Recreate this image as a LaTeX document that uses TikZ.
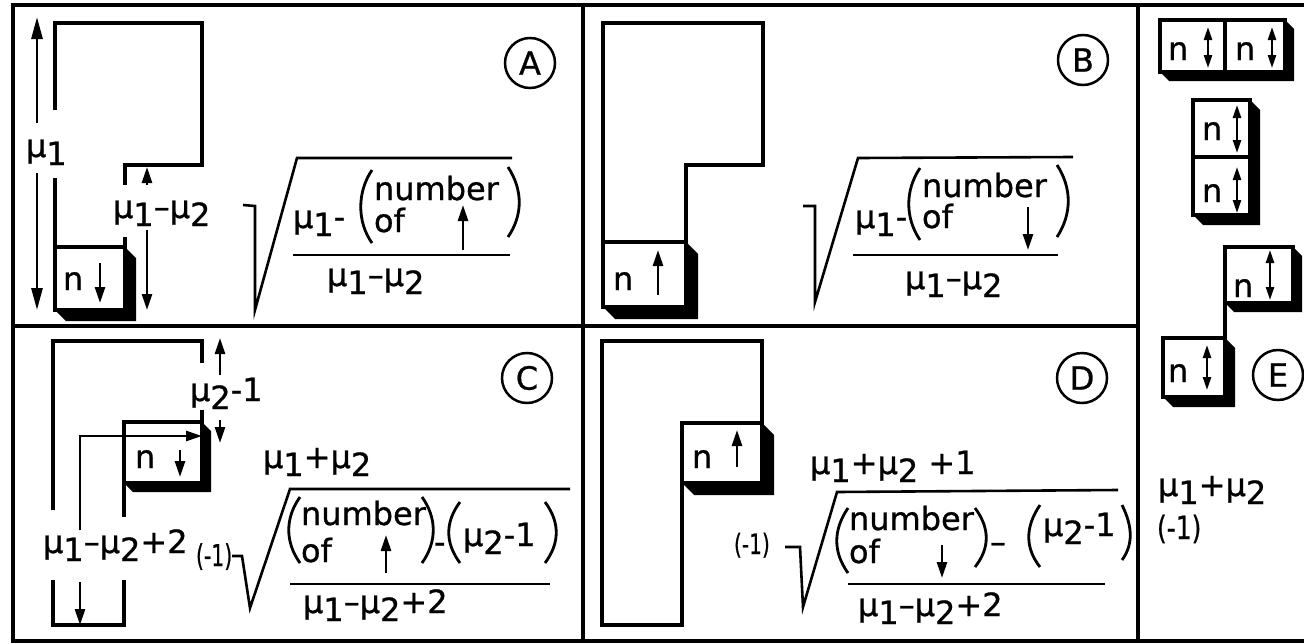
\documentclass[tikz,border=0pt]{standalone}
\usepackage{fontspec}
\setmainfont{DejaVu Sans}
\newfontfamily\leroy{DejaVu Sans}[FakeBold=0.8]
\usepackage{tikz}
\usetikzlibrary{arrows.meta, positioning, calc}

\newcommand{\lettering}{\leroy\fontsize{32}{36}\selectfont}
% lowered index, drawn almost full size
\newcommand{\dn}[1]{\raisebox{-8pt}{#1}}
% narrow set for the (-1) factors: size, horizontal scale, text
\newcommand{\narrowset}[3]{{\fontsize{#1}{#1}\selectfont\scalebox{#2}[1]{#3}}}
% extruded black shadow along the right and lower side of a block node
\newcommand{\blockshade}[2]{%
  \fill (#1.north east) -- ++(#2,#2) -- ([shift={(#2,#2)}]#1.south east)
    -- ([shift={(#2,#2)}]#1.south west) -- (#1.south west) -- (#1.south east) -- cycle;}

\begin{document}
\begin{tikzpicture}[
    x=1pt, y=-1pt,
    frame/.style={line width=3.5pt},
    outline/.style={line width=3.2pt},
    cell/.style={
        rectangle, draw, fill=white, line width=3.2pt,
        inner sep=0, outer sep=0, anchor=north west
    },
    lbl/.style={inner sep=0, outer sep=0, anchor=base west, font=\lettering},
    tag/.style={circle, draw, line width=2.5pt, minimum size=50pt, inner sep=0, font=\lettering},
    dim/.style={-{Triangle[length=16pt, width=10pt]}, line width=2.6pt},
    longdim/.style={-{Triangle[length=22pt, width=11pt]}, line width=2.8pt},
    both/.style={{Triangle[length=13pt, width=8pt]}-{Triangle[length=13pt, width=8pt]}, line width=2.4pt},
    paren/.style={line width=2.8pt},
    radical/.style={line width=2.6pt, line join=miter},
    bar/.style={line width=2.8pt}
]
\useasboundingbox (0,0) rectangle (1304,643);

% 1. Frame
\draw[frame] (1304,5) -- (13,5) -- (13,641) -- (1304,641);
\draw[frame] (583,5) -- (583,641);
\draw[frame] (1138,5) -- (1138,641);
\draw[frame] (13,326) -- (1138,326);

% 2. Panel A
\draw[outline] (55,110) -- (55,23) -- (202,23) -- (202,165) -- (125,165) -- (125,185);
\draw[outline] (125,237) -- (125,247);
\draw[outline] (55,178) -- (55,247);
\node[cell, minimum width=70pt, minimum height=63pt] (blockA) at (55,247) {};
\blockshade{blockA}{11}
\node[lbl] (nA) at (63,290) {n};
\draw[dim] (100,263) -- (100,303);
\draw[longdim] (37,123) -- (37,17);
\draw[longdim] (37,173) -- (37,310);
\node[lbl] (muA) at (26,157) {μ\dn{1}};
\draw[dim] (147,185) -- (147,167);
\draw[dim] (147,230) -- (147,310);
\node[lbl] (stepA) at (113,218) {μ\dn{1}–μ\dn{2}};
\node[tag] (tagA) at (530,63) {A};
\draw[radical] (243,205) -- (255,206) -- (255,310) -- (297,158) -- (512,158);
\node[lbl] (numA) at (293,228) {μ\dn{1}-};
\draw[paren] (372,170) .. controls (357,192) and (357,222) .. (372,243);
\node[lbl] (numberA) at (374,200) {number};
\node[lbl] (ofA) at (374,232) {of};
\draw[dim] (463,250) -- (463,205);
\draw[paren] (508,167) .. controls (523,190) and (523,215) .. (508,237);
\draw[bar] (293,255) -- (510,255);
\node[lbl] (denA) at (327,286) {μ\dn{1}–μ\dn{2}};

% 3. Panel B
\draw[outline] (686,242) -- (686,165) -- (763,165) -- (763,23) -- (603,23) -- (603,242);
\node[cell, minimum width=83pt, minimum height=65pt] (blockB) at (603,242) {};
\blockshade{blockB}{12}
\node[lbl] (nB) at (613,290) {n};
\draw[dim] (658,295) -- (658,250);
\node[tag] (tagB) at (1083,60) {B};
\draw[radical] (803,206) -- (815,206) -- (815,302) -- (858,158) -- (1073,157);
\node[lbl] (numB) at (855,228) {μ\dn{1}-};
\draw[paren] (920,168) .. controls (905,190) and (905,218) .. (920,240);
\node[lbl] (numberB) at (922,197) {number};
\node[lbl] (ofB) at (922,228) {of};
\draw[dim] (1028,207) -- (1028,250);
\draw[paren] (1057,165) .. controls (1072,188) and (1072,214) .. (1057,237);
\draw[bar] (853,255) -- (1058,255);
\node[lbl] (denB) at (905,289) {μ\dn{1}–μ\dn{2}};

% 4. Panel C
\draw[outline] (53,510) -- (53,341) -- (202,341) -- (202,363);
\draw[outline] (202,410) -- (202,422);
\node[cell, minimum width=78pt, minimum height=61pt] (blockC) at (124,422) {};
\blockshade{blockC}{9}
\draw[outline] (124,483) -- (124,517);
\draw[outline] (124,580) -- (124,625) -- (53,625) -- (53,580);
\node[lbl] (nC) at (135,468) {n};
\draw[dim] (180,450) -- (180,477);
\draw[dim] (80,530) -- (80,436) -- (202,436);
\draw[dim] (80,582) -- (80,625);
\draw[dim] (220,375) -- (220,338);
\draw[dim] (220,420) -- (220,443);
\node[lbl] (stepC) at (190,401) {μ\dn{2}-1};
\node[lbl] (spanC) at (43,553) {μ\dn{1}–μ\dn{2}+2};
\node[tag] (tagC) at (527,378) {C};
\node[lbl] (signC) at (196,566) {\narrowset{30}{0.68}{(-1)}};
\draw[radical] (232,556) -- (242,556) -- (250,608) -- (290,489) -- (570,489);
\node[lbl] (powC) at (263,468) {μ\dn{1}+μ\dn{2}};
\draw[paren] (300,497) .. controls (285,518) and (285,542) .. (300,563);
\node[lbl] (numberC) at (301,525) {number};
\node[lbl] (ofC) at (301,562) {of};
\draw[dim] (386,573) -- (386,535);
\draw[paren] (422,497) .. controls (437,518) and (437,542) .. (422,563);
\node[lbl] (minusC) at (434,553) {-};
\draw[paren] (460,502) .. controls (445,522) and (445,543) .. (460,563);
\node[lbl] (corrC) at (463,546) {μ\dn{2}-1};
\draw[paren] (545,502) .. controls (560,522) and (560,543) .. (545,563);
\draw[bar] (290,584) -- (550,584);
\node[lbl] (denC) at (303,613) {μ\dn{1}–μ\dn{2}+2};

% 5. Panel D
\draw[outline] (762,423) -- (762,341) -- (602,341) -- (602,625) -- (682,625) -- (682,483);
\node[cell, minimum width=80pt, minimum height=60pt] (blockD) at (682,423) {};
\blockshade{blockD}{12}
\node[lbl] (nD) at (692,468) {n};
\draw[dim] (737,467) -- (737,430);
\node[tag] (tagD) at (1082,378) {D};
\node[lbl] (powD) at (810,474) {μ\dn{1}+μ\dn{2} +1};
\node[lbl] (signD) at (734,554) {\narrowset{28}{0.72}{(-1)}};
\draw[radical] (785,547) -- (800,547) -- (803,607) -- (837,492) -- (1118,490);
\draw[paren] (848,508) .. controls (833,530) and (833,552) .. (848,573);
\node[lbl] (numberD) at (849,530) {number};
\node[lbl] (ofD) at (849,563) {of};
\draw[dim] (942,545) -- (942,578);
\draw[paren] (975,508) .. controls (990,528) and (990,548) .. (975,567);
\node[lbl] (minusD) at (990,553) {–};
\draw[paren] (1040,505) .. controls (1025,527) and (1025,548) .. (1040,567);
\node[lbl] (corrD) at (1043,536) {μ\dn{2}-1};
\draw[paren] (1122,505) .. controls (1133,527) and (1133,545) .. (1122,560);
\draw[bar] (848,584) -- (1105,584);
\node[lbl] (denD) at (858,616) {μ\dn{1}–μ\dn{2}+2};

% 6. Panel E
\node[cell, minimum width=65pt, minimum height=52pt] (blockE1) at (1160,20) {};
\blockshade{blockE1}{9}
\node[cell, minimum width=60pt, minimum height=52pt] (blockE2) at (1225,20) {};
\blockshade{blockE2}{9}
\node[lbl] (nE1) at (1168,60) {n};
\draw[both] (1208,27) -- (1208,68);
\node[lbl] (nE2) at (1235,60) {n};
\draw[both] (1272,27) -- (1272,68);
\node[cell, minimum width=57pt, minimum height=57pt] (blockE3) at (1193,100) {};
\blockshade{blockE3}{10}
\node[cell, minimum width=57pt, minimum height=58pt] (blockE4) at (1193,157) {};
\blockshade{blockE4}{10}
\node[lbl] (nE3) at (1202,140) {n};
\draw[both] (1237,105) -- (1237,153);
\node[lbl] (nE4) at (1202,202) {n};
\draw[both] (1237,167) -- (1237,213);
\node[cell, minimum width=68pt, minimum height=56pt] (blockE5) at (1225,247) {};
\blockshade{blockE5}{9}
\node[lbl] (nE5) at (1233,297) {n};
\draw[both] (1270,250) -- (1270,300);
\node[cell, minimum width=62pt, minimum height=59pt] (blockE6) at (1163,338) {};
\blockshade{blockE6}{10}
\node[lbl] (nE6) at (1168,382) {n};
\draw[both] (1207,345) -- (1207,390);
\draw[outline] (blockE5.south west) -- (blockE6.north east);
\node[tag] (tagE) at (1278,375) {E};
\node[lbl] (powE) at (1158,496) {μ\dn{1}+μ\dn{2}};
\node[lbl] (signE) at (1157,539) {\narrowset{32}{0.78}{(-1)}};

\end{tikzpicture}
\end{document}
